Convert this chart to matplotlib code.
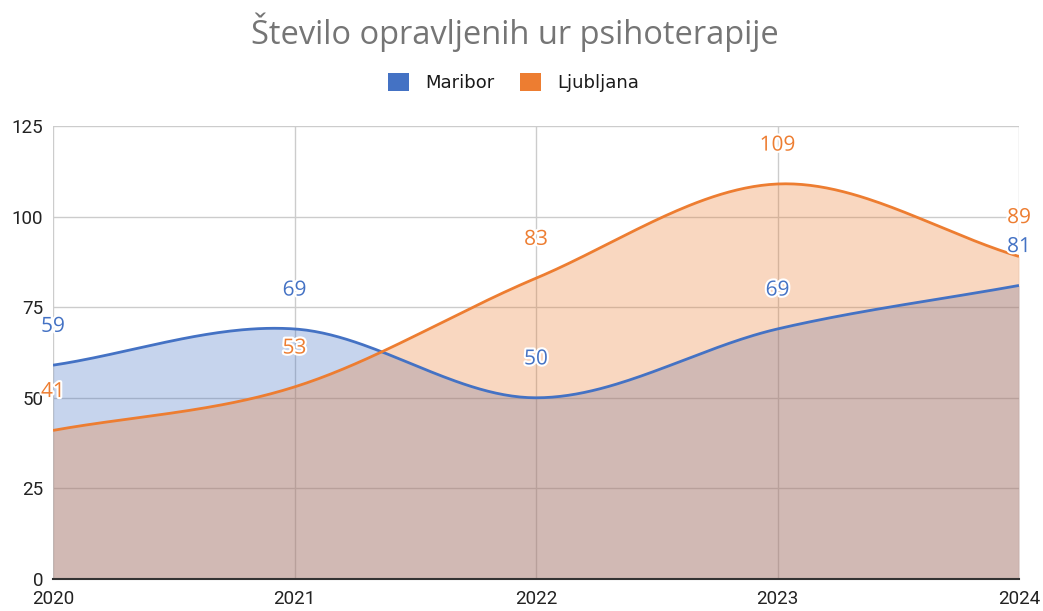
import numpy as np
import matplotlib
matplotlib.use("Agg")
import matplotlib.pyplot as plt
import matplotlib.patheffects as pe
from matplotlib import font_manager as fm

years = [2020, 2021, 2022, 2023, 2024]
maribor = [59, 69, 50, 69, 81]
ljubljana = [41, 53, 83, 109, 89]
series_names = ["Maribor", "Ljubljana"]
y_ticks = [0, 25, 50, 75, 100, 125]
title = "Število opravljenih ur psihoterapije"

BLUE = "#4472c4"
ORANGE = "#ed7d31"

names = {f.name for f in fm.fontManager.ttflist}
tick_font = "Roboto" if "Roboto" in names else "DejaVu Sans"
main_font = "Open Sans" if "Open Sans" in names else "DejaVu Sans"
legend_font = "DejaVu Sans"


def smooth(x, y, n=60):
    x = np.asarray(x, float)
    y = np.asarray(y, float)
    m = np.zeros_like(y)
    m[1:-1] = (y[2:] - y[:-2]) / (x[2:] - x[:-2])
    m[0] = (y[1] - y[0]) / (x[1] - x[0])
    m[-1] = (y[-1] - y[-2]) / (x[-1] - x[-2])
    xs, ys = [], []
    for i in range(len(x) - 1):
        h = x[i + 1] - x[i]
        t = np.linspace(0, 1, n, endpoint=(i == len(x) - 2))
        h00 = 2 * t**3 - 3 * t**2 + 1
        h10 = t**3 - 2 * t**2 + t
        h01 = -2 * t**3 + 3 * t**2
        h11 = t**3 - t**2
        xs.append(x[i] + t * h)
        ys.append(h00 * y[i] + h10 * h * m[i] + h01 * y[i + 1] + h11 * h * m[i + 1])
    return np.concatenate(xs), np.concatenate(ys)


fig = plt.figure(figsize=(10.43, 6.11), dpi=100)
ax = fig.add_axes([53 / 1043, 1 - 579 / 611, (1019 - 53) / 1043, (579 - 126) / 611])

for vals, col in [(maribor, BLUE), (ljubljana, ORANGE)]:
    xs, ys = smooth(years, vals)
    ax.fill_between(xs, 0, ys, color=col, alpha=0.3, linewidth=0, zorder=2)
    ax.plot(xs, ys, color=col, linewidth=2.0, zorder=3, solid_capstyle="butt")

for vals, col in [(maribor, BLUE), (ljubljana, ORANGE)]:
    for x, v in zip(years, vals):
        ax.annotate(str(v), (x, v), xytext=(0, 28), textcoords="offset points",
                    ha="center", va="center", fontsize=15, color=col,
                    family=main_font, zorder=5, annotation_clip=False,
                    path_effects=[pe.withStroke(linewidth=3, foreground="white")])

ax.set_xlim(years[0], years[-1])
ax.set_ylim(y_ticks[0], y_ticks[-1])
ax.set_xticks(years)
ax.set_yticks(y_ticks)
ax.set_xticklabels([str(y) for y in years], family=tick_font, fontsize=13.5, color="#222222")
ax.set_yticklabels([str(y) for y in y_ticks], family=tick_font, fontsize=13.5, color="#222222")
ax.tick_params(length=0)
ax.tick_params(axis="y", pad=7)
ax.tick_params(axis="x", pad=8)
ax.grid(True, color="#cccccc", linewidth=1, zorder=1)
ax.set_axisbelow(True)
for s in ["top", "right", "left"]:
    ax.spines[s].set_visible(False)
ax.spines["bottom"].set_color("#333333")
ax.spines["bottom"].set_linewidth(1.5)
ax.spines["bottom"].set_zorder(4)

fig.text(515 / 1043, 1 - 32 / 611, title, ha="center", va="center", fontsize=23.5,
         color="#757575", family=main_font)

handles = [plt.Rectangle((0, 0), 1, 1, facecolor=c, edgecolor="none") for c in (BLUE, ORANGE)]
fig.legend(handles, series_names, loc="center", bbox_to_anchor=(513.5 / 1043, 1 - 82.5 / 611),
           ncol=2, frameon=False, handlelength=1.15, handleheight=1.15, handletextpad=0.9,
           columnspacing=1.45, prop={"family": legend_font, "size": 13},
           labelcolor="#1a1a1a")

fig.savefig("out.png", dpi=100, facecolor="white")
